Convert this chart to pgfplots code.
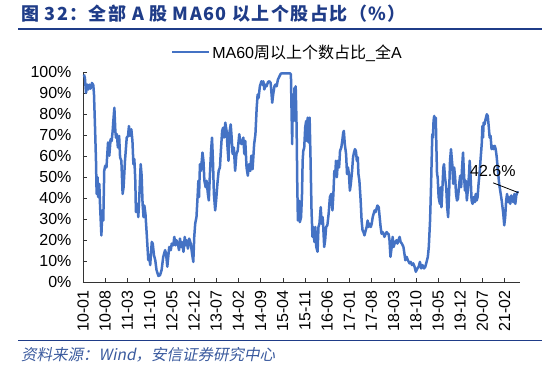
\documentclass[border=0pt]{standalone}
\usepackage{pgfplots}
\pgfplotsset{compat=1.18}
\usepackage{fontspec}
\setmainfont{Liberation Sans}
\newfontfamily\cjk{Noto Sans CJK SC}
\newfontfamily\cjktitle[LetterSpace=8]{Noto Sans CJK SC}
\newfontfamily\cjksl[FakeSlant=0.2]{Noto Sans CJK SC}
\definecolor{lineblue}{HTML}{4472C4}
\definecolor{titleblue}{HTML}{1F3C88}
\definecolor{srcblue}{HTML}{3A5A9E}
\begin{document}
\begin{tikzpicture}[x=1pt,y=1pt]
\path[use as bounding box] (0pt,0pt) rectangle (550pt,367pt);
\node[anchor=west,text=titleblue,font=\cjktitle\bfseries\fontsize{18}{21}\selectfont,inner sep=0] at (21pt,353.5pt) {图 32：全部 A 股 MA60 以上个股占比（\%）};
\draw[titleblue,line width=1.8pt] (18pt,337.7pt) -- (542pt,337.7pt);
\draw[titleblue,line width=1.8pt] (18pt,26.4pt) -- (542pt,26.4pt);
\node[anchor=west,text=srcblue,font=\cjksl\fontsize{15.5}{17}\selectfont,inner sep=0] at (21pt,12pt) {资料来源：Wind，安信证券研究中心};
\begin{axis}[
  at={(83pt,84.7pt)}, anchor=south west,
  scale only axis, width=437.4pt, height=210.3pt,
  xmin=0, xmax=138, ymin=0, ymax=100,
  axis lines*=left, axis line style={-, black!80},
  tick align=inside, major tick length=4pt,
  tick style={black!80},
  xtick={0,7,...,133},
  xticklabels={10-01,10-08,11-03,11-10,12-05,12-12,13-07,14-02,14-09,15-04,15-11,16-06,17-01,17-08,18-03,18-10,19-05,19-12,20-07,21-02},
  xticklabel style={rotate=90, anchor=east, font=\fontsize{16}{18}\selectfont},
  xticklabel shift=5pt,
  ytick={0,10,...,100},
  yticklabel={\pgfmathprintnumber{\tick}\%},
  yticklabel style={font=\fontsize{16}{18}\selectfont, xshift=-8pt},
  /pgf/number format/assume math mode=true,
  legend style={at={(0.467,1.095)}, anchor=center, draw=none, fill=none, font=\fontsize{16}{18}\selectfont},
  legend cell align=left,
  legend image code/.code={\draw[#1] (0pt,0pt) -- (37pt,0pt);},
]
\addplot[lineblue, line width=2.5pt, line join=round] coordinates {
(0.3,98.8)(0.6,97.2)(0.95,90.1)(1.37,94.0)(1.68,91.7)(2.0,94.0)(2.4,92.1)(2.84,94.8)(3.26,93.7)(3.47,89.3)(3.8,73.5)(4.1,57.8)(4.3,42.0)(4.6,50.0)(4.8,40.5)(5.15,46.8)(5.36,37.3)(5.8,22.3)(6.1,34.2)(6.4,29.4)(6.7,53.0)(7.0,55.4)(7.4,54.6)(7.9,66.5)(8.3,60.2)(8.7,68.0)(9.05,67.2)(9.36,72.0)(9.57,76.7)(9.9,83.0)(10.2,72.0)(10.4,68.8)(10.7,70.4)(11.0,64.1)(11.4,69.6)(11.7,59.4)(12.1,57.8)(12.5,42.0)(12.8,45.2)(13.25,57.8)(13.8,68.8)(14.2,69.6)(14.5,74.3)(14.8,69.6)(15.25,72.8)(15.6,67.2)(15.9,56.2)(16.2,58.6)(16.5,48.3)(16.7,33.4)(17.1,37.3)(17.45,31.0)(17.8,42.0)(18.2,56.2)(18.5,50.7)(18.8,37.3)(19.1,31.0)(19.35,36.5)(19.7,32.6)(20.1,23.1)(20.6,10.5)(20.9,12.9)(21.2,8.2)(21.7,19.2)(22.0,18.4)(22.4,12.9)(22.8,10.5)(23.2,5.8)(23.8,3.0)(24.3,3.4)(24.8,5.8)(25.3,12.0)
(25.9,15.3)(26.2,13.7)(26.6,7.4)(26.9,12.1)(27.2,16.8)(27.7,15.3)(28.0,18.4)(28.5,17.6)(28.8,21.6)(29.2,17.6)(29.5,20.0)(29.9,18.4)(30.3,15.3)(30.6,20.8)(30.9,16.8)(31.2,19.2)(31.7,14.5)(32.1,21.6)(32.4,17.6)(32.7,20.0)(33.1,16.0)(33.5,20.8)(34.0,18.4)(34.4,13.7)(34.8,9.7)(35.1,21.6)(35.4,27.9)(35.8,31.0)(36.2,42.0)(36.4,48.3)(36.6,40.5)(36.9,56.2)(37.2,53.0)(37.7,61.7)(38.0,57.8)(38.3,48.3)(38.7,45.2)(39.0,48.3)(39.4,42.0)(39.7,38.9)(40.0,50.0)(40.4,62.5)(40.7,68.8)(41.0,57.8)(41.3,42.0)(41.7,34.2)(42.0,38.9)(42.4,46.8)(42.8,53.0)(43.2,54.6)(43.5,62.5)(43.9,72.0)(44.2,73.5)(44.5,68.8)(44.9,75.9)(45.3,72.0)(45.6,64.1)(45.9,57.8)(46.2,71.2)(46.6,75.1)(46.9,68.8)(47.2,61.0)(47.6,64.1)(48.0,53.0)(48.4,61.0)(48.8,62.5)(49.3,70.4)
(49.6,67.2)(50.0,65.7)(50.6,68.8)(50.9,61.0)(51.2,67.2)(51.6,54.6)(52.0,50.7)(52.4,56.2)(52.8,53.0)(53.1,60.2)(53.5,53.8)(54.0,65.7)(54.4,70.4)(54.8,83.0)(55.1,89.3)(55.4,87.7)(55.8,93.2)(56.3,95.6)(56.6,94.0)(56.9,95.6)(57.2,91.7)(57.6,94.0)(57.9,93.2)(58.4,95.3)(58.8,95.6)(59.2,94.8)(59.5,89.3)(59.7,85.4)(60.0,89.3)(60.4,93.2)(60.7,94.0)(61.1,93.2)(61.5,96.4)(62.0,98.0)(62.4,99.2)(63.0,99.4)(63.7,99.4)(64.5,99.4)(65.3,99.4)(65.6,98.8)(65.8,81.4)(66.0,65.7)(66.1,84.6)(66.3,89.3)(66.5,76.7)(66.7,92.4)(66.9,79.9)(67.1,93.2)(67.4,73.5)(67.6,46.8)(67.8,29.4)(68.1,38.9)(68.4,28.6)(68.8,31.0)(69.1,42.0)(69.3,57.8)(69.5,62.5)(69.8,64.1)(70.1,73.5)(70.4,76.7)(70.6,67.2)(70.9,78.3)(71.2,66.5)(71.5,78.3)(71.8,57.8)(72.1,34.2)(72.4,21.6)(72.7,26.3)(73.0,19.2)(73.3,26.3)(73.6,16.8)(74.0,14.5)(74.3,26.3)(74.6,27.9)
(75.0,35.7)(75.3,27.9)(75.6,31.0)(75.8,26.3)(76.1,16.8)(76.4,20.0)(76.7,26.3)(77.1,27.1)(77.5,32.6)(77.9,40.5)(78.3,42.0)(78.7,34.2)(79.0,42.0)(79.3,53.0)(79.6,50.7)(79.8,57.8)(80.1,50.0)(80.4,57.8)(80.8,54.6)(81.1,62.5)(81.5,64.1)(81.8,67.2)(82.1,71.2)(82.3,72.0)(82.6,65.7)(83.0,61.0)(83.3,51.5)(83.6,54.6)(83.9,51.5)(84.2,43.6)(84.5,46.8)(84.9,53.0)(85.2,59.4)(85.5,61.7)(85.8,63.3)(86.1,62.5)(86.4,57.8)(86.7,59.4)(86.9,51.5)(87.2,48.3)(87.6,38.9)(87.9,29.4)(88.2,24.7)(88.5,23.9)(88.8,22.3)(89.2,24.7)(89.5,26.3)(89.8,29.4)(90.1,26.3)(90.4,27.9)(90.8,26.3)(91.1,27.9)(91.4,31.0)(91.7,32.6)(92.0,34.2)(92.3,33.4)(92.6,35.0)(92.9,36.5)(93.3,35.7)(93.6,31.0)(93.9,26.3)(94.2,23.1)(94.5,23.9)(94.8,23.1)(95.1,21.6)(95.5,23.1)(95.8,23.9)(96.1,23.1)(96.4,23.1)(96.7,20.0)(97.0,12.1)(97.4,16.8)(97.7,21.6)(98.0,16.8)(98.3,18.4)(98.6,19.2)(98.9,20.0)(99.2,18.4)(99.5,20.0)(99.9,21.6)
(100.2,19.2)(100.6,18.4)(101.1,16.8)(101.4,13.7)(101.7,10.5)(102.1,12.1)(102.5,10.5)(103.0,9.0)(103.4,9.7)(103.8,8.2)(104.2,9.0)(104.6,7.4)(105.0,5.0)(105.5,6.6)(105.9,7.4)(106.3,9.7)(106.7,6.6)(107.1,8.2)(107.6,6.6)(108.0,7.4)(108.4,9.7)(108.8,12.1)(109.1,16.8)(109.5,29.4)(109.8,45.2)(110.0,57.8)(110.2,70.4)(110.4,68.8)(110.6,76.7)(110.8,79.1)(111.1,73.5)(111.3,78.3)(111.5,64.1)(111.7,51.5)(111.9,50.0)(112.2,40.5)(112.6,37.3)(112.9,45.2)(113.1,35.7)(113.4,45.2)(113.7,54.6)(113.9,56.2)(114.2,50.0)(114.6,45.2)(114.9,35.7)(115.2,31.0)(115.5,42.0)(115.8,57.8)(116.1,63.3)(116.5,56.2)(116.8,46.8)(117.1,54.6)(117.4,50.0)(117.7,42.0)(118.0,38.9)(118.3,39.7)(118.7,46.8)(119.0,50.7)(119.3,45.2)(119.6,54.6)(119.9,61.7)(120.2,51.5)(120.5,43.6)(120.8,48.3)(121.1,38.9)(121.5,45.2)(121.8,51.5)(122.0,57.8)(122.3,50.0)(122.6,38.9)(122.9,37.3)(123.2,40.5)(123.6,38.1)(123.9,42.0)(124.2,38.9)(124.5,40.5)(124.8,46.8)(125.1,51.5)(125.4,57.8)(125.8,65.7)(126.0,74.3)(126.2,68.8)(126.4,75.9)(126.7,75.1)(127.0,77.5)(127.4,79.9)(127.7,79.1)(128.0,74.3)(128.3,68.8)(128.6,69.6)(128.9,63.3)(129.2,64.9)(129.5,63.3)(129.9,64.9)(130.2,63.3)(130.5,60.0)(130.8,55.0)(131.3,46.8)(132.1,38.9)(132.6,32.6)(132.9,27.1)(133.2,31.0)(133.5,38.9)(133.8,42.0)(134.1,38.1)(134.4,40.5)(134.8,37.3)(135.1,41.3)(135.4,38.9)(135.8,38.1)(136.1,42.0)(136.4,37.3)(136.7,41.3)(137.0,42.8)(137.4,42.6)
};
\addlegendentry{MA60{\cjk 周以上个数占比}\_{\cjk 全}A}
\draw[black, line width=0.8pt] (axis cs:129.4,47.3) -- (axis cs:137.4,42.6);
\node[font=\fontsize{16}{18}\selectfont, inner sep=0] at (axis cs:129.3,52.8) {42.6\%};
\end{axis}
\end{tikzpicture}
\end{document}
